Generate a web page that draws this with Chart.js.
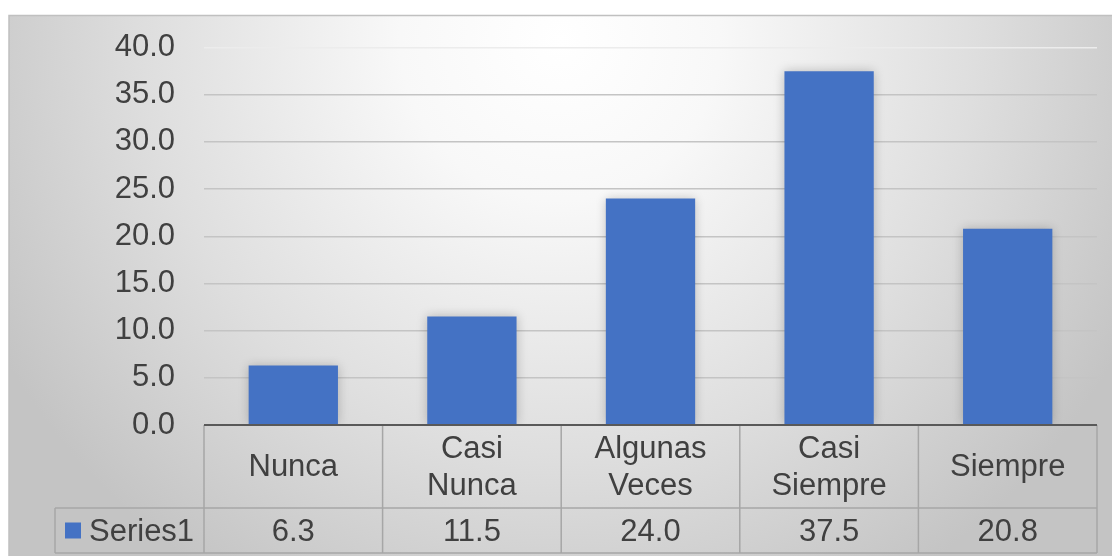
<!DOCTYPE html>
<html>
<head>
<meta charset="utf-8">
<script src="https://cdn.jsdelivr.net/npm/chart.js@4"></script>
<style>
  html, body { margin: 0; padding: 0; background: #ffffff; }
  #chart { display: block; }
</style>
</head>
<body>
<canvas id="chart" width="1112" height="556"></canvas>
<script>
// données du graphique
const categories = [['Nunca'], ['Casi', 'Nunca'], ['Algunas', 'Veces'], ['Casi', 'Siempre'], ['Siempre']];
const seriesName = 'Series1';
const values = [6.3, 11.5, 24.0, 37.5, 20.8];
const yMin = 0;
const yMax = 40;
const yStep = 5;

const FONT = '"Liberation Sans", Arial, sans-serif';
const FONT_SIZE = 31;
const TEXT = '#404040';
const BAR = '#4472c4';
const CELL_BORDER = '#a6a6a6';

// fond dégradé gris du cadre
const backgroundPlugin = {
  id: 'background',
  beforeDraw(chart) {
    const ctx = chart.ctx;
    const w = chart.width, h = chart.height;
    ctx.save();
    const g = ctx.createRadialGradient(560, 40, 0, 560, 40, 640);
    g.addColorStop(0, '#ffffff');
    g.addColorStop(0.25, '#f8f8f8');
    g.addColorStop(0.65, '#dedede');
    g.addColorStop(1, '#c4c4c4');
    ctx.fillStyle = g;
    ctx.fillRect(9, 15, w - 9, h - 15);
    ctx.strokeStyle = '#c0c0c0';
    ctx.lineWidth = 1.5;
    ctx.beginPath();
    ctx.moveTo(9, h);
    ctx.lineTo(9, 15.5);
    ctx.lineTo(w, 15.5);
    ctx.stroke();
    ctx.restore();
  }
};

// ombre douce autour des barres
const shadowPlugin = {
  id: 'barShadow',
  beforeDatasetsDraw(chart) {
    const ctx = chart.ctx;
    ctx.save();
    ctx.shadowColor = 'rgba(0, 0, 0, 0.22)';
    ctx.shadowBlur = 10;
  },
  afterDatasetsDraw(chart) {
    chart.ctx.restore();
  }
};

// tableau de données sous l'axe
const tablePlugin = {
  id: 'dataTable',
  afterDraw(chart) {
    const ctx = chart.ctx;
    const xs = chart.scales.x;
    const ys = chart.scales.y;
    const n = chart.data.labels.length;
    const left = chart.chartArea.left;
    const right = chart.chartArea.right;
    const colW = (right - left) / n;
    const top = ys.getPixelForValue(0);
    const rowSplit = top + 83;
    const bottom = top + 128;
    const legendLeft = 55;

    ctx.save();
    ctx.strokeStyle = CELL_BORDER;
    ctx.lineWidth = 1.5;
    ctx.beginPath();
    // lignes horizontales
    ctx.moveTo(left, top); ctx.lineTo(right, top);
    ctx.moveTo(legendLeft, rowSplit); ctx.lineTo(right, rowSplit);
    ctx.moveTo(legendLeft, bottom); ctx.lineTo(right, bottom);
    // lignes verticales
    ctx.moveTo(legendLeft, rowSplit); ctx.lineTo(legendLeft, bottom);
    for (let i = 0; i <= n; i++) {
      const x = i === n ? right : xs.getPixelForValue(i) - colW / 2;
      ctx.moveTo(x, top); ctx.lineTo(x, bottom);
    }
    ctx.stroke();

    // ligne de l'axe horizontal
    ctx.strokeStyle = '#595959';
    ctx.lineWidth = 2;
    ctx.beginPath();
    ctx.moveTo(left, top); ctx.lineTo(right, top);
    ctx.stroke();

    ctx.fillStyle = TEXT;
    ctx.font = FONT_SIZE + 'px ' + FONT;
    ctx.textAlign = 'center';
    ctx.textBaseline = 'middle';
    const lineH = 37;
    const headMid = (top + rowSplit) / 2;
    const valMid = (rowSplit + bottom) / 2;
    const data = chart.data.datasets[0].data;
    for (let i = 0; i < n; i++) {
      const cx = xs.getPixelForValue(i);
      const lines = chart.data.labels[i];
      const y0 = headMid - (lines.length - 1) * lineH / 2;
      lines.forEach((t, k) => ctx.fillText(t, cx, y0 + k * lineH + 1));
      ctx.fillText(data[i].toFixed(1), cx, valMid + 2);
    }

    // légende dans le tableau
    ctx.fillStyle = BAR;
    ctx.fillRect(65, valMid - 8, 16, 16);
    ctx.fillStyle = TEXT;
    ctx.textAlign = 'left';
    ctx.fillText(chart.data.datasets[0].label, 89, valMid + 2);
    ctx.restore();
  }
};

const ctx = document.getElementById('chart').getContext('2d');
new Chart(ctx, {
  type: 'bar',
  data: {
    labels: categories,
    datasets: [{
      label: seriesName,
      data: values,
      backgroundColor: BAR,
      borderWidth: 0,
      barPercentage: 0.5,
      categoryPercentage: 1
    }]
  },
  options: {
    responsive: false,
    animation: false,
    layout: { padding: { left: 9, top: 45, right: 15, bottom: 131 } },
    plugins: {
      legend: { display: false },
      tooltip: { enabled: false }
    },
    scales: {
      x: { display: false },
      y: {
        min: yMin,
        max: yMax,
        afterFit(scale) { scale.width = 195; },
        border: { display: false },
        grid: {
          drawTicks: false,
          lineWidth: 1.5,
          color: (c) => {
            if (c.tick.value === yMin) return 'rgba(0,0,0,0)';
            if (c.tick.value === yMax) return '#ececec';
            return '#c4c4c4';
          }
        },
        ticks: {
          stepSize: yStep,
          padding: 29,
          color: TEXT,
          font: { size: FONT_SIZE, family: FONT },
          callback: (v) => Number(v).toFixed(1)
        }
      }
    }
  },
  plugins: [backgroundPlugin, shadowPlugin, tablePlugin]
});
</script>
</body>
</html>
